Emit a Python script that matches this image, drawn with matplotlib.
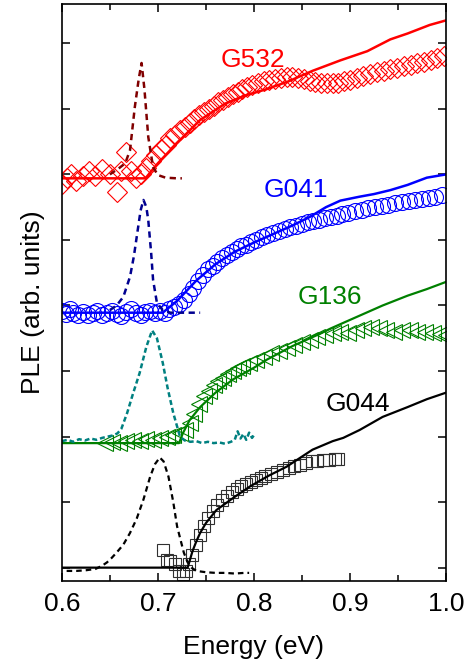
import numpy as np
import matplotlib
matplotlib.use('Agg')
import matplotlib.pyplot as plt
from matplotlib.ticker import MultipleLocator, NullFormatter

plt.rcParams['font.family'] = ['Liberation Sans', 'DejaVu Sans']

# ---- G532 (red, offset ~6) ----
g532_x = [0.600, 0.605, 0.610, 0.615, 0.622, 0.628, 0.635, 0.642, 0.650, 0.657, 0.662, 0.667,
          0.672, 0.677, 0.682, 0.688, 0.693, 0.698, 0.703, 0.708, 0.713, 0.718, 0.723, 0.728,
          0.733, 0.738, 0.743, 0.748, 0.753, 0.758, 0.763, 0.768, 0.773, 0.778, 0.783, 0.788,
          0.793, 0.798, 0.804, 0.810, 0.816, 0.822, 0.828, 0.834, 0.840, 0.846, 0.852, 0.858,
          0.864, 0.870, 0.876, 0.882, 0.888, 0.894, 0.900, 0.907, 0.914, 0.921, 0.928, 0.935,
          0.942, 0.949, 0.956, 0.963, 0.970, 0.977, 0.984, 0.991, 0.998]
g532_y = [5.85, 5.95, 6.00, 5.90, 5.98, 6.05, 5.97, 6.08, 6.00, 5.73, 6.05, 6.34,
          6.05, 5.95, 6.00, 6.10, 6.20, 6.30, 6.38, 6.45, 6.55, 6.60, 6.67, 6.72,
          6.78, 6.85, 6.90, 6.95, 7.00, 7.05, 7.10, 7.13, 7.18, 7.22, 7.26, 7.30,
          7.33, 7.36, 7.39, 7.42, 7.44, 7.46, 7.47, 7.48, 7.48, 7.47, 7.45, 7.43,
          7.41, 7.40, 7.39, 7.39, 7.40, 7.42, 7.44, 7.47, 7.50, 7.53, 7.56, 7.58,
          7.61, 7.63, 7.65, 7.67, 7.70, 7.72, 7.75, 7.77, 7.80]
g532_fit_x = [0.600, 0.687, 0.700, 0.720, 0.744, 0.770, 0.790, 0.813, 0.836, 0.861, 0.890,
              0.918, 0.942, 0.960, 0.983, 1.000]
g532_fit_y = [5.94, 5.94, 6.17, 6.48, 6.83, 7.08, 7.20, 7.30, 7.42, 7.58, 7.74,
              7.88, 8.06, 8.15, 8.28, 8.35]
g532_pl_x = [0.650, 0.660, 0.666, 0.671, 0.676, 0.680, 0.683, 0.686, 0.690, 0.695, 0.700,
             0.708, 0.720, 0.725]
g532_pl_y = [6.00, 6.10, 6.17, 6.37, 7.03, 7.45, 7.70, 7.30, 6.57, 6.11, 5.99,
             5.95, 5.94, 5.94]

# ---- G041 (blue, offset ~3.9) ----
g041_x = [0.600, 0.604, 0.608, 0.612, 0.617, 0.622, 0.627, 0.632, 0.637, 0.642, 0.647, 0.652,
          0.657, 0.662, 0.667, 0.672, 0.677, 0.682, 0.687, 0.692, 0.697, 0.702, 0.707, 0.712,
          0.717, 0.722, 0.727, 0.732, 0.737, 0.742, 0.747, 0.752, 0.757, 0.762, 0.767, 0.772,
          0.777, 0.782, 0.787, 0.792, 0.797, 0.802, 0.808, 0.814, 0.820, 0.826, 0.832, 0.838,
          0.844, 0.850, 0.856, 0.862, 0.868, 0.874, 0.880, 0.886, 0.892, 0.898, 0.905, 0.912,
          0.919, 0.926, 0.933, 0.940, 0.947, 0.954, 0.961, 0.968, 0.975, 0.982, 0.989, 0.996]
g041_y = [3.92, 3.87, 3.94, 3.89, 3.86, 3.90, 3.85, 3.88, 3.91, 3.86, 3.88, 3.92,
          3.87, 3.84, 3.90, 3.94, 3.88, 3.86, 3.90, 3.92, 3.88, 3.91, 3.89, 3.94,
          3.97, 4.02, 4.09, 4.17, 4.27, 4.37, 4.47, 4.55, 4.61, 4.67, 4.72, 4.77,
          4.82, 4.86, 4.90, 4.93, 4.97, 5.00, 5.04, 5.08, 5.11, 5.14, 5.17, 5.20,
          5.22, 5.25, 5.27, 5.29, 5.31, 5.33, 5.35, 5.37, 5.39, 5.41, 5.44, 5.46,
          5.48, 5.50, 5.52, 5.54, 5.56, 5.58, 5.60, 5.61, 5.62, 5.64, 5.66, 5.68]
g041_fit_x = [0.600, 0.705, 0.720, 0.740, 0.760, 0.780, 0.800, 0.820, 0.840, 0.858, 0.875,
              0.890, 0.910, 0.925, 0.942, 0.960, 0.980, 1.000]
g041_fit_y = [3.89, 3.89, 4.07, 4.38, 4.63, 4.82, 4.96, 5.09, 5.22, 5.35, 5.50,
              5.60, 5.66, 5.70, 5.76, 5.84, 5.95, 6.00]
g041_pl_x = [0.650, 0.657, 0.664, 0.671, 0.675, 0.679, 0.682, 0.685, 0.688, 0.690, 0.693,
             0.695, 0.699, 0.705, 0.713, 0.730, 0.744]
g041_pl_y = [3.93, 4.00, 4.13, 4.44, 4.75, 5.15, 5.45, 5.61, 5.50, 5.30, 4.80,
             4.39, 4.04, 3.93, 3.89, 3.89, 3.89]

# ---- G136 (green, offset ~1.9) ----
g136_x = [0.645, 0.652, 0.660, 0.667, 0.674, 0.681, 0.688, 0.695, 0.702, 0.709, 0.716, 0.723,
          0.728, 0.733, 0.738, 0.743, 0.748, 0.753, 0.758, 0.763, 0.768, 0.773, 0.778, 0.783,
          0.788, 0.795, 0.802, 0.810, 0.818, 0.826, 0.834, 0.842, 0.850, 0.858, 0.866, 0.874,
          0.882, 0.890, 0.898, 0.906, 0.914, 0.922, 0.930, 0.938, 0.946, 0.954, 0.962, 0.970,
          0.978, 0.986, 0.994, 1.000]
g136_y = [1.90, 1.92, 1.90, 1.93, 1.95, 1.93, 1.97, 1.95, 1.98, 2.00, 2.02, 2.05,
          2.10, 2.20, 2.35, 2.50, 2.62, 2.70, 2.78, 2.85, 2.90, 2.96, 3.00, 3.05,
          3.08, 3.12, 3.17, 3.22, 3.27, 3.30, 3.35, 3.40, 3.45, 3.48, 3.52, 3.55,
          3.58, 3.60, 3.58, 3.62, 3.65, 3.67, 3.65, 3.62, 3.60, 3.62, 3.63, 3.60,
          3.60, 3.58, 3.56, 3.55]
g136_fit_x = [0.600, 0.722, 0.726, 0.733, 0.744, 0.760, 0.778, 0.800, 0.813, 0.840, 0.866,
              0.880, 0.900, 0.934, 0.960, 0.980, 1.000]
g136_fit_y = [1.90, 1.90, 2.05, 2.25, 2.45, 2.67, 2.87, 3.05, 3.17, 3.38, 3.55,
              3.65, 3.78, 4.00, 4.15, 4.25, 4.36]
g136_pl_x = [0.600, 0.606, 0.612, 0.618, 0.624, 0.630, 0.636, 0.642, 0.648, 0.654, 0.658,
             0.662, 0.668, 0.674, 0.681, 0.688, 0.694, 0.699, 0.705, 0.710, 0.716, 0.723,
             0.728, 0.734, 0.740, 0.746, 0.752, 0.758, 0.764, 0.770, 0.776, 0.780, 0.783,
             0.786, 0.789, 0.792, 0.795, 0.798, 0.800]
g136_pl_y = [1.93, 1.95, 1.92, 1.96, 1.94, 1.97, 1.95, 1.98, 2.00, 2.02, 2.05,
             2.12, 2.36, 2.65, 2.97, 3.37, 3.62, 3.50, 3.13, 2.75, 2.36, 2.00,
             1.94, 1.92, 1.93, 1.90, 1.92, 1.90, 1.91, 1.89, 1.92, 1.95, 2.08,
             1.97, 2.04, 1.95, 2.06, 1.98, 2.02]

# ---- G044 (black, offset 0) ----
g044_x = [0.705, 0.709, 0.713, 0.718, 0.722, 0.726, 0.729, 0.732, 0.736, 0.740, 0.744, 0.748,
          0.752, 0.757, 0.762, 0.767, 0.772, 0.777, 0.782, 0.787, 0.792, 0.797, 0.802, 0.807,
          0.812, 0.818, 0.824, 0.830, 0.836, 0.842, 0.848, 0.854, 0.860, 0.866, 0.872, 0.878,
          0.884, 0.888]
g044_y = [0.27, 0.12, 0.10, 0.05, -0.05, -0.10, -0.05, 0.05, 0.20, 0.35, 0.50, 0.63,
          0.75, 0.86, 0.95, 1.03, 1.10, 1.16, 1.20, 1.24, 1.28, 1.31, 1.34, 1.37,
          1.40, 1.43, 1.46, 1.49, 1.52, 1.55, 1.57, 1.60, 1.62, 1.63, 1.65, 1.65,
          1.66, 1.66]
g044_fit_x = [0.600, 0.731, 0.733, 0.736, 0.740, 0.744, 0.750, 0.761, 0.780, 0.796, 0.815,
              0.834, 0.861, 0.882, 0.893, 0.910, 0.934, 0.960, 0.980, 1.000]
g044_fit_y = [0.00, 0.00, 0.10, 0.25, 0.40, 0.53, 0.68, 0.88, 1.08, 1.24, 1.40,
              1.54, 1.80, 1.93, 1.98, 2.10, 2.30, 2.45, 2.57, 2.67]
g044_pl_x = [0.605, 0.615, 0.625, 0.635, 0.642, 0.647, 0.652, 0.657, 0.664, 0.671, 0.678,
             0.685, 0.692, 0.697, 0.702, 0.706, 0.711, 0.716, 0.720, 0.724, 0.727, 0.731,
             0.735, 0.740, 0.750, 0.760, 0.770, 0.780, 0.790, 0.795]
g044_pl_y = [-0.05, -0.05, -0.04, -0.02, 0.03, 0.08, 0.15, 0.23, 0.35, 0.53, 0.75,
             1.04, 1.39, 1.58, 1.68, 1.62, 1.39, 1.00, 0.63, 0.40, 0.23, 0.08,
             0.00, -0.05, -0.07, -0.08, -0.08, -0.09, -0.08, -0.08]

# ---- labels ----
names = ['G532', 'G041', 'G136', 'G044']
colors = ['#ff0000', '#0000ff', '#008000', '#000000']
label_x = [0.799, 0.844, 0.879, 0.908]
label_y = [7.74, 5.76, 4.13, 2.50]

fig = plt.figure(figsize=(4.72, 6.66), dpi=100)
ax = fig.add_axes([0.131, 0.128, 0.814, 0.866])

ms_kw = dict(linestyle='none', markerfacecolor='none', markeredgewidth=0.8)

# data points
ax.plot(g532_x, g532_y, marker='D', markersize=10, markeredgecolor='#ff0000', **ms_kw)
ax.plot(g041_x, g041_y, marker='o', markersize=11.5, markeredgecolor='#0000ff', **ms_kw)
ax.plot(g136_x, g136_y, marker='<', markersize=12, markeredgecolor='#008000', **ms_kw)
ax.plot(g044_x, g044_y, marker='s', markersize=9, markeredgecolor='#303030', **ms_kw)

# fits
ax.plot(g532_fit_x, g532_fit_y, color='#ff0000', lw=1.8)
ax.plot(g041_fit_x, g041_fit_y, color='#0000ff', lw=1.8)
ax.plot(g136_fit_x, g136_fit_y, color='#008000', lw=1.6)
ax.plot(g044_fit_x, g044_fit_y, color='#000000', lw=1.6)

# PL spectra
ax.plot(g532_pl_x, g532_pl_y, color='#800000', lw=1.8, linestyle=(0, (2.5, 1.8)))
ax.plot(g041_pl_x, g041_pl_y, color='#000090', lw=1.8, linestyle=(0, (2.5, 1.8)))
ax.plot(g136_pl_x, g136_pl_y, color='#008080', lw=1.8, linestyle=(0, (2.0, 1.2)))
ax.plot(g044_pl_x, g044_pl_y, color='#000000', lw=1.6, linestyle=(0, (2.5, 1.8)))

for n, c, lx, ly in zip(names, colors, label_x, label_y):
    ax.text(lx, ly, n, color=c, fontsize=19, ha='center', va='center')

ax.set_xlim(0.6, 1.0)
ax.set_ylim(-0.2, 8.6)
ax.xaxis.set_major_locator(MultipleLocator(0.1))
ax.xaxis.set_minor_locator(MultipleLocator(0.05))
ax.yaxis.set_major_locator(MultipleLocator(1))
ax.yaxis.set_major_formatter(NullFormatter())
ax.tick_params(which='both', direction='in', top=True, right=True, labelsize=19, width=1.1)
ax.tick_params(which='major', length=6)
ax.tick_params(which='minor', length=4)
ax.tick_params(axis='x', pad=8)
for s in ax.spines.values():
    s.set_linewidth(1.2)

ax.set_xlabel('Energy (eV)', fontsize=19, labelpad=14)
ax.set_ylabel('PLE (arb. units)', fontsize=19)
ax.yaxis.set_label_coords(-0.045, 0.483)

fig.savefig('out.png', dpi=100)
